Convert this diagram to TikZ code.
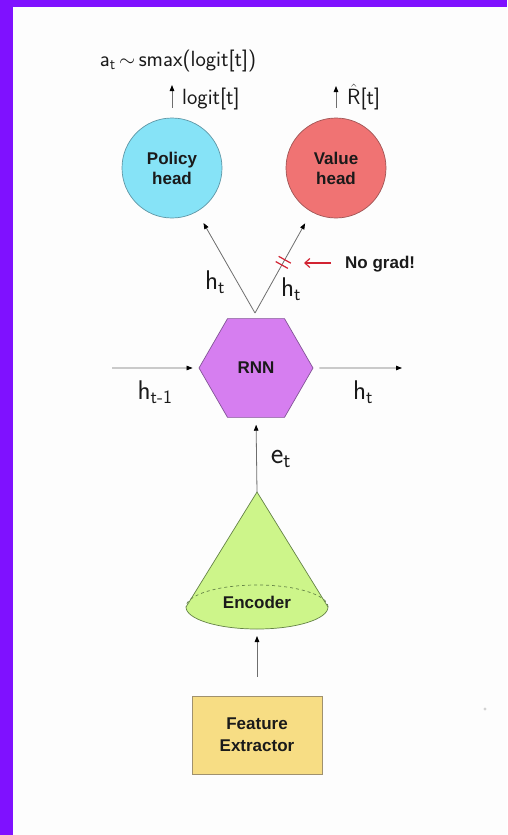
\documentclass[tikz,border=0pt]{standalone}
\usepackage{fontspec}
\setmainfont{Liberation Sans}
\usetikzlibrary{arrows.meta,shapes.geometric,calc}

\definecolor{framepurple}{RGB}{127,17,255}
\definecolor{bgwhite}{RGB}{253,253,253}
\definecolor{linegray}{RGB}{110,110,110}
\definecolor{inkdark}{RGB}{26,26,26}
\definecolor{policyfill}{RGB}{134,227,247}
\definecolor{policyedge}{RGB}{95,150,165}
\definecolor{valuefill}{RGB}{240,115,115}
\definecolor{valueedge}{RGB}{160,85,85}
\definecolor{rnnfill}{RGB}{214,126,240}
\definecolor{rnnedge}{RGB}{130,85,150}
\definecolor{encfill}{RGB}{205,245,138}
\definecolor{encedge}{RGB}{100,130,70}
\definecolor{fefill}{RGB}{247,221,132}
\definecolor{feedge}{RGB}{160,145,110}
\definecolor{gradred}{RGB}{210,35,50}

\tikzset{
  conn/.style={draw=linegray, line width=0.8pt,
    -{Triangle[length=6pt,width=4.5pt,color=black]}},
  boldlabel/.style={font=\bfseries\fontsize{17}{20}\selectfont, text=inkdark, align=center},
  headcircle/.style={circle, minimum size=100pt, inner sep=0pt, line width=0.7pt, boldlabel},
  hexa/.style={regular polygon, regular polygon sides=6, minimum size=114pt, inner sep=0pt,
    fill=rnnfill, draw=rnnedge, line width=0.7pt, boldlabel},
  febox/.style={rectangle, minimum width=130pt, minimum height=78pt, inner sep=0pt,
    fill=fefill, draw=feedge, line width=0.8pt, boldlabel, font=\bfseries\fontsize{17}{22}\selectfont},
  hand/.style={font=\sffamily\fontsize{22}{24}\selectfont, text=inkdark, inner sep=0pt},
  bighand/.style={font=\sffamily\fontsize{27}{28}\selectfont, text=inkdark, inner sep=0pt}
}

\begin{document}
\begin{tikzpicture}[x=1pt,y=-1pt]
  \useasboundingbox (0,0) rectangle (507,835);
  % page and frame
  \fill[bgwhite] (0,0) rectangle (507,835);
  \fill[framepurple] (0,0) rectangle (507,7);
  \fill[framepurple] (0,0) rectangle (13,835);

  % heads
  \node[headcircle, fill=policyfill, draw=policyedge] (pol) at (172,168) {Policy\\head};
  \node[headcircle, fill=valuefill, draw=valueedge] (val) at (336,168) {Value\\head};

  % recurrent core
  \node[hexa] (rnn) at (256,368) {RNN};

  % encoder cone
  \coordinate (apex) at (257,492);
  \coordinate (encL) at (186,607);
  \coordinate (encR) at (328,607);
  \coordinate (encbot) at (257,629);
  \filldraw[fill=encfill, draw=encedge, line width=0.7pt]
    (encL) -- (apex) -- (encR) arc[start angle=0, end angle=180, x radius=71, y radius=22] -- cycle;
  \draw[encedge, dashed, line width=0.7pt]
    (encR) arc[start angle=0, end angle=-180, x radius=71, y radius=22];
  \node[boldlabel] (enc) at (257,602) {Encoder};

  % feature extractor
  \node[febox] (fe) at (257,735) {Feature\\Extractor};

  % small speck
  \fill[gray!35] (485,709) circle[radius=1.6];

  % vertical flow
  \draw[conn, shorten <=19pt, shorten >=7pt] (fe.north) -- (encbot);
  \draw[conn, shorten >=7pt] (apex) -- (rnn.south);
  \node[bighand, font=\sffamily\fontsize{30}{30}\selectfont] (et) at (281,459) {e\textsubscript{t}};

  % recurrent state in and out
  \coordinate (hin) at (112,368);
  \coordinate (hout) at (402,368);
  \draw[conn, shorten >=6pt] (hin) -- (rnn.west);
  \draw[conn, shorten <=6pt] (rnn.east) -- (hout);
  \node[bighand] (hprev) at (155,392) {h\textsubscript{t-1}};
  \node[bighand] (hnext) at (363,392) {h\textsubscript{t}};

  % state split to the two heads
  \coordinate (vtx) at (255,313);
  \draw[conn, shorten >=13pt] (vtx) -- (pol);
  \draw[conn, shorten >=13pt] (vtx) -- (val);
  \node[bighand] (hpol) at (215,282) {h\textsubscript{t}};
  \node[bighand] (hval) at (291,289) {h\textsubscript{t}};

  % stop-gradient marks
  \coordinate (ng1) at ($(vtx)!55pt!(val.center)$);
  \coordinate (ng2) at ($(vtx)!61pt!(val.center)$);
  \draw[gradred, line width=1.2pt] ($(ng1)!7pt!90:(val.center)$) -- ($(ng1)!7pt!-90:(val.center)$);
  \draw[gradred, line width=1.2pt] ($(ng2)!7pt!90:(val.center)$) -- ($(ng2)!7pt!-90:(val.center)$);
  \node[boldlabel, anchor=west, inner sep=0pt] (nograd) at (345,264) {No grad!};
  \coordinate (ngtip) at (304,263);
  \draw[gradred, line width=1.2pt, -{Straight Barb[length=5pt,width=9pt]}]
    ($(nograd.west)+(-14,-1)$) -- (ngtip);

  % head outputs
  \coordinate (logtip) at (172,85);
  \coordinate (valtip) at (336,86);
  \draw[conn, shorten <=10pt] (pol.north) -- (logtip);
  \draw[conn, shorten <=10pt] (val.north) -- (valtip);
  \node[hand, anchor=west] (logit) at (182,99) {logit[t]};
  \node[hand, anchor=west] (rhat) at (347,97) {$\hat{\mathsf{R}}$[t]};
  \node[hand] (act) at (178,61) {a\textsubscript{t}$\,\sim\,$smax(logit[t])};
\end{tikzpicture}
\end{document}
